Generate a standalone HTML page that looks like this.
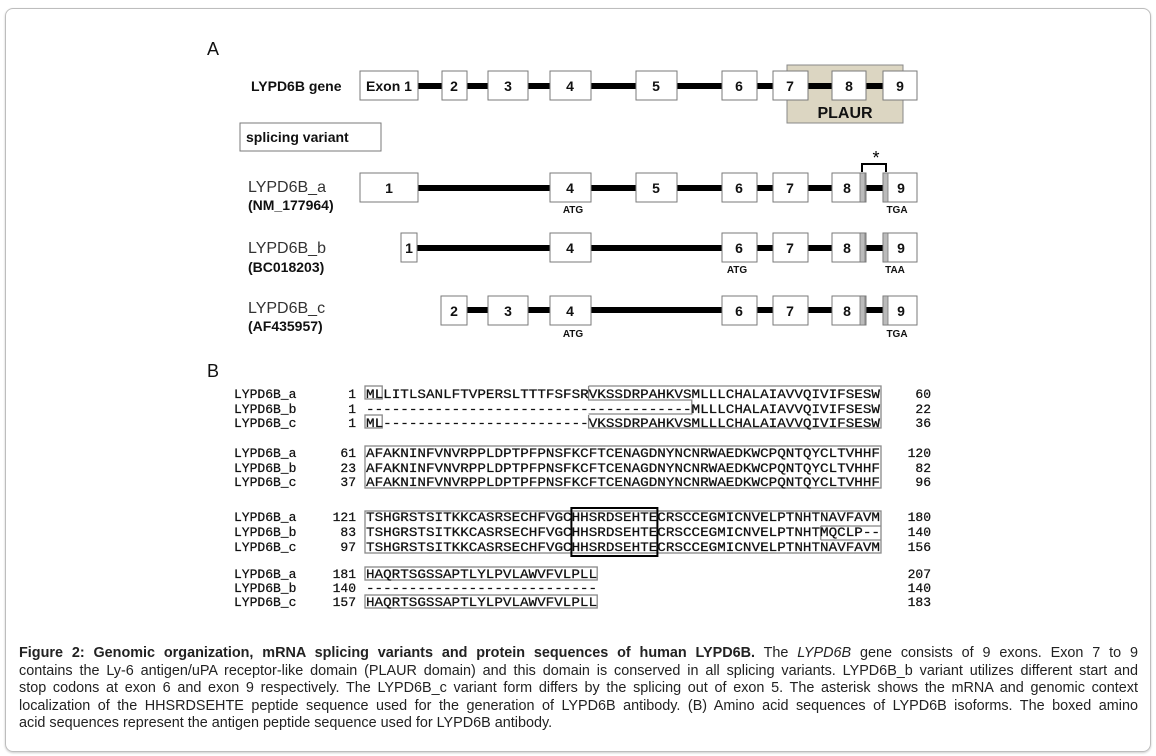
<!DOCTYPE html>
<html><head><meta charset="utf-8"><style>
html,body{margin:0;padding:0;background:#fff;}
body{width:1156px;height:756px;position:relative;overflow:hidden;}
.frame{position:absolute;left:5px;top:8px;width:1144px;height:742px;border:1px solid #bdbdbd;border-radius:8px;box-shadow:0 1px 2px #ccc;}
.cap{position:absolute;left:19px;top:645px;width:1119px;font-family:"Liberation Sans",sans-serif;font-size:14.4px;line-height:17.5px;color:#222;}
.cap div{text-align:justify;text-align-last:justify;white-space:nowrap;}
.cap div.last{text-align-last:left;}
svg{position:absolute;left:0;top:0;}
</style></head><body>
<div class="frame"></div>
<svg width="1156" height="640" viewBox="0 0 1156 640" font-family="Liberation Sans, sans-serif">
<!-- Panel A -->
<text x="207" y="55" font-size="18" fill="#111">A</text>
<rect x="787" y="65" width="116" height="58" fill="#dcd6c2" stroke="#888"/>
<text x="845" y="118" font-size="16" font-weight="bold" text-anchor="middle" fill="#111">PLAUR</text>
<g stroke="#000" stroke-width="6">
<line x1="418" y1="86" x2="883" y2="86"/>
<line x1="418" y1="188" x2="883" y2="188"/>
<line x1="417" y1="248" x2="883" y2="248"/>
<line x1="467" y1="310" x2="883" y2="310"/>
</g>
<g fill="#fff" stroke="#7a7a7a" stroke-width="1">
<rect x="360" y="71" width="58" height="29"/><rect x="442" y="71" width="25" height="29"/><rect x="488" y="71" width="40" height="29"/><rect x="550" y="71" width="41" height="29"/><rect x="636" y="71" width="41" height="29"/><rect x="722" y="71" width="35" height="29"/><rect x="773" y="71" width="35" height="29"/><rect x="832" y="71" width="34" height="29"/><rect x="883" y="71" width="34" height="29"/>
<rect x="360" y="173" width="58" height="29"/><rect x="550" y="173" width="41" height="29"/><rect x="636" y="173" width="41" height="29"/><rect x="722" y="173" width="35" height="29"/><rect x="773" y="173" width="35" height="29"/><rect x="832" y="173" width="34" height="29"/><rect x="883" y="173" width="34" height="29"/>
<rect x="401" y="233" width="16" height="29"/><rect x="550" y="233" width="41" height="29"/><rect x="722" y="233" width="35" height="29"/><rect x="773" y="233" width="35" height="29"/><rect x="832" y="233" width="34" height="29"/><rect x="883" y="233" width="34" height="29"/>
<rect x="441" y="296" width="26" height="29"/><rect x="488" y="296" width="40" height="29"/><rect x="550" y="296" width="41" height="29"/><rect x="722" y="296" width="35" height="29"/><rect x="773" y="296" width="35" height="29"/><rect x="832" y="296" width="34" height="29"/><rect x="883" y="296" width="34" height="29"/>
<rect x="240" y="123" width="141" height="28"/>
</g>
<g fill="#bbb" stroke="#777" stroke-width="0.8">
<rect x="860" y="173" width="5" height="29"/><rect x="883" y="173" width="5" height="29"/>
<rect x="860" y="233" width="5" height="29"/><rect x="883" y="233" width="5" height="29"/>
<rect x="860" y="296" width="5" height="29"/><rect x="883" y="296" width="5" height="29"/>
</g>
<path d="M862 172 V164 H886 V172" fill="none" stroke="#000" stroke-width="2"/>
<text x="876" y="164" font-size="18" text-anchor="middle" fill="#000">*</text>
<g font-size="14" font-weight="bold" text-anchor="middle" fill="#111">
<text x="389" y="91">Exon 1</text><text x="454" y="91">2</text><text x="508" y="91">3</text><text x="570" y="91">4</text><text x="656" y="91">5</text><text x="739" y="91">6</text><text x="790" y="91">7</text><text x="849" y="91">8</text><text x="900" y="91">9</text>
<text x="389" y="193">1</text><text x="570" y="193">4</text><text x="656" y="193">5</text><text x="739" y="193">6</text><text x="790" y="193">7</text><text x="847" y="193">8</text><text x="901" y="193">9</text>
<text x="409" y="253">1</text><text x="570" y="253">4</text><text x="739" y="253">6</text><text x="790" y="253">7</text><text x="847" y="253">8</text><text x="901" y="253">9</text>
<text x="454" y="316">2</text><text x="508" y="316">3</text><text x="570" y="316">4</text><text x="739" y="316">6</text><text x="790" y="316">7</text><text x="847" y="316">8</text><text x="901" y="316">9</text>
</g>
<g font-size="10" font-weight="bold" text-anchor="middle" fill="#111">
<text x="573" y="213">ATG</text><text x="897" y="213">TGA</text>
<text x="737" y="273">ATG</text><text x="895" y="273">TAA</text>
<text x="573" y="337">ATG</text><text x="897" y="337">TGA</text>
</g>
<text x="251" y="91" font-size="14" font-weight="bold" fill="#111">LYPD6B gene</text>
<text x="246" y="142" font-size="14" font-weight="bold" fill="#111">splicing variant</text>
<g font-size="16" fill="#333">
<text x="248" y="192">LYPD6B_a</text><text x="248" y="253">LYPD6B_b</text><text x="248" y="313">LYPD6B_c</text>
</g>
<g font-size="14" font-weight="bold" fill="#111">
<text x="248" y="210">(NM_177964)</text><text x="248" y="272">(BC018203)</text><text x="248" y="331">(AF435957)</text>
</g>
<!-- Panel B -->
<text x="207" y="377" font-size="18" fill="#111">B</text>
<g fill="none" stroke="#888" stroke-width="1.3">
<rect x="365" y="386" width="17.2" height="13"/>
<rect x="365" y="415" width="17.2" height="13"/>
<path d="M588.6 386 H881 V428 H588.6 V415 H588.6 M588.6 386 V400 H691.8 V414 H588.6"/>
<rect x="365" y="446" width="516" height="42"/>
<rect x="365" y="511" width="516" height="42"/>
<line x1="820.8" y1="526" x2="820.8" y2="540"/>
<line x1="820.8" y1="526" x2="881" y2="526"/>
<line x1="820.8" y1="540" x2="881" y2="540"/>
<rect x="365" y="567" width="232.2" height="13"/>
<rect x="365" y="595" width="232.2" height="13"/>
</g>
<rect x="571.4" y="508" width="86" height="48" fill="none" stroke="#000" stroke-width="2"/>
<g font-family="Liberation Mono, monospace" font-size="13" fill="#111" stroke="#111" stroke-width="0.25">
<text x="234" y="398">LYPD6B_a</text><text x="234" y="413">LYPD6B_b</text><text x="234" y="427">LYPD6B_c</text>
<text x="234" y="457">LYPD6B_a</text><text x="234" y="472">LYPD6B_b</text><text x="234" y="486">LYPD6B_c</text>
<text x="234" y="521">LYPD6B_a</text><text x="234" y="536">LYPD6B_b</text><text x="234" y="551">LYPD6B_c</text>
<text x="234" y="578">LYPD6B_a</text><text x="234" y="592">LYPD6B_b</text><text x="234" y="606">LYPD6B_c</text>
<g text-anchor="end">
<text x="356" y="398">1</text><text x="356" y="413">1</text><text x="356" y="427">1</text>
<text x="356" y="457">61</text><text x="356" y="472">23</text><text x="356" y="486">37</text>
<text x="356" y="521">121</text><text x="356" y="536">83</text><text x="356" y="551">97</text>
<text x="356" y="578">181</text><text x="356" y="592">140</text><text x="356" y="606">157</text>
<text x="931" y="398">60</text><text x="931" y="413">22</text><text x="931" y="427">36</text>
<text x="931" y="457">120</text><text x="931" y="472">82</text><text x="931" y="486">96</text>
<text x="931" y="521">180</text><text x="931" y="536">140</text><text x="931" y="551">156</text>
<text x="931" y="578">207</text><text x="931" y="592">140</text><text x="931" y="606">183</text>
</g>
<text x="366" y="398" textLength="514" lengthAdjust="spacingAndGlyphs">MLLITLSANLFTVPERSLTTTFSFSRVKSSDRPAHKVSMLLLCHALAIAVVQIVIFSESW</text>
<text x="366" y="413" textLength="514" lengthAdjust="spacingAndGlyphs">--------------------------------------MLLLCHALAIAVVQIVIFSESW</text>
<text x="366" y="427" textLength="514" lengthAdjust="spacingAndGlyphs">ML------------------------VKSSDRPAHKVSMLLLCHALAIAVVQIVIFSESW</text>
<text x="366" y="457" textLength="514" lengthAdjust="spacingAndGlyphs">AFAKNINFVNVRPPLDPTPFPNSFKCFTCENAGDNYNCNRWAEDKWCPQNTQYCLTVHHF</text>
<text x="366" y="472" textLength="514" lengthAdjust="spacingAndGlyphs">AFAKNINFVNVRPPLDPTPFPNSFKCFTCENAGDNYNCNRWAEDKWCPQNTQYCLTVHHF</text>
<text x="366" y="486" textLength="514" lengthAdjust="spacingAndGlyphs">AFAKNINFVNVRPPLDPTPFPNSFKCFTCENAGDNYNCNRWAEDKWCPQNTQYCLTVHHF</text>
<text x="366" y="521" textLength="514" lengthAdjust="spacingAndGlyphs">TSHGRSTSITKKCASRSECHFVGCHHSRDSEHTECRSCCEGMICNVELPTNHTNAVFAVM</text>
<text x="366" y="536" textLength="514" lengthAdjust="spacingAndGlyphs">TSHGRSTSITKKCASRSECHFVGCHHSRDSEHTECRSCCEGMICNVELPTNHTMQCLP--</text>
<text x="366" y="551" textLength="514" lengthAdjust="spacingAndGlyphs">TSHGRSTSITKKCASRSECHFVGCHHSRDSEHTECRSCCEGMICNVELPTNHTNAVFAVM</text>
<text x="366" y="578" textLength="231" lengthAdjust="spacingAndGlyphs">HAQRTSGSSAPTLYLPVLAWVFVLPLL</text>
<text x="366" y="592" textLength="231" lengthAdjust="spacingAndGlyphs">---------------------------</text>
<text x="366" y="606" textLength="231" lengthAdjust="spacingAndGlyphs">HAQRTSGSSAPTLYLPVLAWVFVLPLL</text>
</g>
</svg>
<div class="cap">
<div><b>Figure 2: Genomic organization, mRNA splicing variants and protein sequences of human LYPD6B.</b> The <i>LYPD6B</i> gene consists of 9 exons. Exon 7 to 9</div>
<div>contains the Ly-6 antigen/uPA receptor-like domain (PLAUR domain) and this domain is conserved in all splicing variants. LYPD6B_b variant utilizes different start and</div>
<div>stop codons at exon 6 and exon 9 respectively. The LYPD6B_c variant form differs by the splicing out of exon 5. The asterisk shows the mRNA and genomic context</div>
<div>localization of the HHSRDSEHTE peptide sequence used for the generation of LYPD6B antibody. (B) Amino acid sequences of LYPD6B isoforms. The boxed amino</div>
<div class="last">acid sequences represent the antigen peptide sequence used for LYPD6B antibody.</div>
</div>
</body></html>
